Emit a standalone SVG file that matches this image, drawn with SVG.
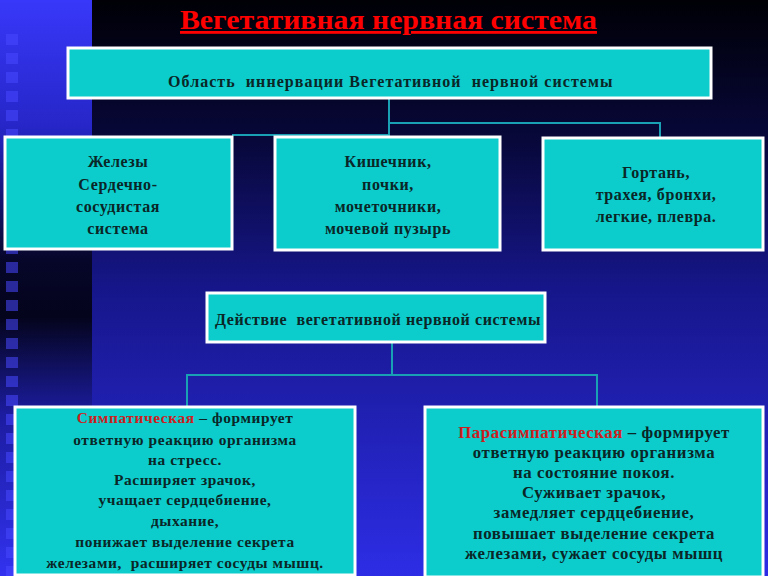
<svg xmlns="http://www.w3.org/2000/svg" width="768" height="576" viewBox="0 0 768 576">
<defs>
<linearGradient id="bgMain" x1="0" y1="0" x2="0" y2="1">
<stop offset="0" stop-color="#000006"/>
<stop offset="0.25" stop-color="#08083c"/>
<stop offset="0.5" stop-color="#16168a"/>
<stop offset="1" stop-color="#2d2de6"/>
</linearGradient>
<linearGradient id="bgStrip" x1="0" y1="0" x2="0" y2="1">
<stop offset="0" stop-color="#3838fa"/>
<stop offset="0.22" stop-color="#2626c8"/>
<stop offset="0.45" stop-color="#06062a"/>
<stop offset="0.55" stop-color="#04041c"/>
<stop offset="0.72" stop-color="#1c1ca0"/>
<stop offset="1" stop-color="#3232f0"/>
</linearGradient>
<pattern id="squares" x="0" y="34" width="24" height="19" patternUnits="userSpaceOnUse">
<rect x="6" y="0" width="12" height="11" fill="#4646ff" opacity="0.55"/>
</pattern>
</defs>
<style>
.box{fill:#0ccccc;stroke:#ffffff;stroke-width:3}
.t{font-family:"Liberation Serif","Times New Roman",serif;font-weight:bold;font-size:16px;fill:#0a2626;text-anchor:middle;letter-spacing:0.6px;white-space:pre}
.s{font-size:15.4px}
.p{font-size:16.8px}
.red{fill:#cc2020}
.conn{fill:none;stroke:#1aa0b4;stroke-width:2}
</style>
<rect x="0" y="0" width="768" height="576" fill="url(#bgMain)"/>
<rect x="0" y="0" width="92" height="576" fill="url(#bgStrip)"/>
<rect x="0" y="34" width="24" height="542" fill="url(#squares)"/>

<text x="388.5" y="29" font-family="Liberation Serif, Times New Roman, serif" font-weight="bold" font-size="28" fill="#ff0000" text-anchor="middle" text-decoration="underline" textLength="417" lengthAdjust="spacingAndGlyphs">Вегетативная нервная система</text>

<g id="connectors">
<path class="conn" d="M389,98 V137 M389,123 H660 V138 M232,135 H389"/>
<path class="conn" d="M392,342 V375 M187,375 H597 M187,374 V407 M597,374 V407"/>
</g>

<g id="area">
<rect class="box" x="68" y="48" width="643" height="50"/>
<text class="t" x="390.5" y="87" font-size="16" textLength="445">Область  иннервации Вегетативной  нервной системы</text>
</g>

<g id="glands">
<rect class="box" x="5" y="137" width="227" height="112"/>
<text class="t" x="118" y="167">Железы</text>
<text class="t" x="118" y="190">Сердечно-</text>
<text class="t" x="118" y="212">сосудистая</text>
<text class="t" x="118" y="234">система</text>
</g>

<g id="intestine">
<rect class="box" x="275" y="137" width="225" height="113"/>
<text class="t" x="388" y="167">Кишечник,</text>
<text class="t" x="388" y="190">почки,</text>
<text class="t" x="388" y="212">мочеточники,</text>
<text class="t" x="388" y="234">мочевой пузырь</text>
</g>

<g id="larynx">
<rect class="box" x="543" y="138" width="220" height="112"/>
<text class="t" x="656" y="178">Гортань,</text>
<text class="t" x="656" y="200">трахея, бронхи,</text>
<text class="t" x="656" y="222">легкие, плевра.</text>
</g>

<g id="action">
<rect class="box" x="207" y="293" width="338" height="49"/>
<text class="t" x="378" y="325" font-size="15">Действие  вегетативной нервной системы</text>
</g>

<g id="sympathetic">
<rect class="box" x="15" y="407" width="340" height="168"/>
<text class="t s" x="185" y="423"><tspan class="red">Симпатическая</tspan> – формирует</text>
<text class="t s" x="185" y="445">ответную реакцию организма</text>
<text class="t s" x="185" y="465">на стресс.</text>
<text class="t s" x="185" y="485">Расширяет зрачок,</text>
<text class="t s" x="185" y="505">учащает сердцебиение,</text>
<text class="t s" x="185" y="526">дыхание,</text>
<text class="t s" x="185" y="547">понижает выделение секрета</text>
<text class="t s" x="185" y="568">железами,  расширяет сосуды мышц.</text>
</g>

<g id="parasympathetic">
<rect class="box" x="425" y="407" width="338" height="170"/>
<text class="t p" x="594" y="438"><tspan class="red">Парасимпатическая</tspan> – формирует</text>
<text class="t p" x="594" y="458">ответную реакцию организма</text>
<text class="t p" x="594" y="478">на состояние покоя.</text>
<text class="t p" x="594" y="498">Суживает зрачок,</text>
<text class="t p" x="594" y="518">замедляет сердцебиение,</text>
<text class="t p" x="594" y="539">повышает выделение секрета</text>
<text class="t p" x="594" y="559">железами, сужает сосуды мышц</text>
</g>
</svg>
